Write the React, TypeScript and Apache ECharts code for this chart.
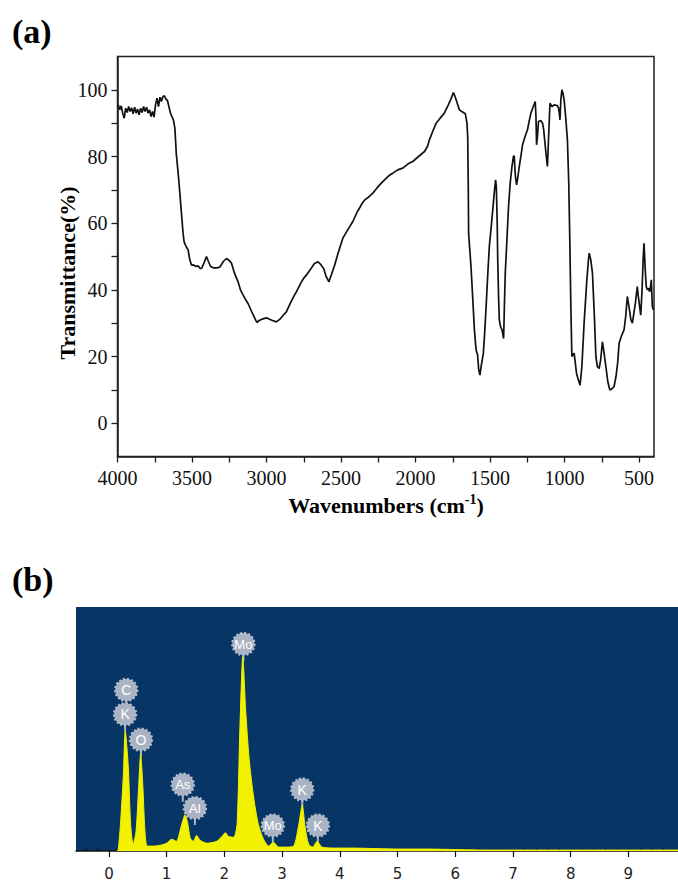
import React, { useEffect, useRef } from "react";
import * as echarts from "echarts";

// ---- (a) FTIR spectrum ----
const ftirWavenumber = [
  3995, 3985, 3975, 3965, 3955, 3945, 3935, 3925, 3915, 3905, 3895, 3885, 3875, 3865, 3855, 3845, 3835, 3825,
  3815, 3805, 3795, 3785, 3775, 3765, 3755, 3745, 3735, 3725, 3715, 3705, 3695, 3685, 3675, 3665, 3655, 3645,
  3635, 3625, 3615, 3605, 3595, 3588, 3578, 3570, 3560, 3553, 3540, 3526, 3515, 3503, 3490, 3475, 3460, 3445,
  3436, 3420, 3403, 3390, 3375, 3358, 3335, 3313, 3290, 3269, 3250, 3235, 3215, 3191, 3175, 3157, 3140, 3124,
  3100, 3079, 3065, 3050, 3030, 3001, 2980, 2960, 2934, 2910, 2890, 2867, 2840, 2820, 2800, 2770, 2750, 2733,
  2700, 2680, 2655, 2640, 2617, 2600, 2581, 2565, 2543, 2520, 2488, 2455, 2421, 2390, 2370, 2358, 2340, 2310,
  2287, 2260, 2230, 2208, 2180, 2153, 2120, 2086, 2050, 2019, 1980, 1940, 1920, 1907, 1885, 1862, 1835, 1807,
  1780, 1760, 1746, 1735, 1720, 1706, 1690, 1666, 1655, 1650, 1646, 1644, 1636, 1628, 1617, 1605, 1594, 1584,
  1576, 1568, 1560, 1545, 1535, 1523, 1515, 1505, 1490, 1478, 1472, 1463, 1458, 1452, 1449, 1443, 1438, 1430,
  1420, 1409, 1404, 1398, 1387, 1376, 1365, 1353, 1343, 1338, 1330, 1322, 1313, 1304, 1290, 1282, 1265, 1249,
  1238, 1226, 1210, 1197, 1192, 1188, 1182, 1175, 1160, 1148, 1140, 1137, 1125, 1115, 1108, 1098, 1085, 1070,
  1050, 1040, 1033, 1031, 1025, 1018, 1010, 1003, 993, 981, 972, 965, 958, 951, 944, 936, 928, 920,
  908, 896, 884, 869, 852, 840, 835, 824, 813, 800, 790, 780, 768, 758, 746, 735, 723, 710,
  697, 685, 668, 655, 644, 634, 620, 601, 590, 579, 572, 568, 555, 545, 535, 525, 512, 505,
  489, 480, 472, 467, 460, 452, 445, 437, 429, 423, 418, 411, 405,
];
const ftirTransmittance = [
  95.5, 94.0, 95.2, 93.0, 91.5, 94.5, 93.2, 95.0, 93.5, 94.6, 92.8, 94.8, 93.0, 94.2, 92.5, 94.5, 93.2, 95.0,
  93.5, 94.8, 93.0, 94.0, 92.0, 93.5, 91.8, 95.5, 97.5, 95.0, 97.8, 96.5, 98.0, 98.2, 97.2, 96.8, 95.0, 93.0,
  92.0, 91.0, 88.5, 80.5, 76.0, 72.5, 67.0, 62.5, 57.0, 54.4, 53.0, 52.0, 49.0, 47.4, 47.5, 47.0, 47.2, 46.4,
  46.4, 48.0, 50.0, 48.5, 47.0, 46.6, 46.6, 46.8, 48.5, 49.4, 48.8, 48.0, 45.0, 42.4, 40.0, 38.4, 37.0, 35.9,
  33.5, 31.5, 30.2, 30.8, 31.2, 31.6, 31.2, 30.8, 30.4, 31.2, 32.3, 33.4, 36.0, 37.8, 39.4, 42.0, 43.5, 44.4,
  46.5, 47.8, 48.4, 47.8, 46.4, 44.0, 42.4, 44.5, 47.4, 51.0, 55.5, 58.0, 60.5, 63.5, 65.0, 66.0, 67.0, 68.0,
  69.0, 70.5, 72.0, 73.0, 74.2, 75.0, 76.0, 76.5, 77.8, 78.5, 80.0, 81.5, 83.0, 85.0, 87.5, 90.0, 91.5, 93.0,
  95.5, 97.5, 99.2, 98.0, 96.0, 94.0, 93.5, 92.8, 90.0, 86.0, 70.0, 57.0, 52.0, 47.0, 38.0, 28.0, 22.0, 20.5,
  16.0, 14.4, 17.0, 21.0, 28.0, 38.0, 45.0, 53.0, 60.0, 66.0, 69.0, 73.0, 71.0, 60.0, 50.0, 38.0, 31.0, 29.0,
  28.0, 25.4, 35.0, 45.0, 55.0, 65.0, 72.0, 77.0, 80.0, 80.2, 74.0, 71.5, 74.0, 77.0, 81.0, 83.5, 86.0, 88.0,
  90.5, 93.0, 95.0, 96.5, 92.0, 83.5, 86.0, 90.5, 90.8, 90.0, 88.0, 86.5, 81.0, 77.0, 85.0, 96.0, 95.0, 95.5,
  95.3, 94.5, 92.0, 91.0, 97.0, 100.0, 98.8, 97.0, 92.0, 85.0, 72.0, 55.0, 35.0, 20.0, 20.5, 21.0, 18.0, 15.0,
  13.0, 11.4, 17.0, 30.0, 42.0, 49.0, 51.0, 49.0, 45.0, 32.0, 20.0, 17.0, 16.4, 19.0, 24.4, 21.0, 17.0, 12.5,
  10.0, 10.2, 11.0, 14.0, 18.0, 24.0, 26.0, 28.0, 32.0, 38.0, 36.0, 35.0, 31.0, 30.0, 33.0, 36.0, 41.0, 38.0,
  32.4, 40.0, 50.0, 54.0, 47.0, 41.0, 40.0, 40.5, 39.4, 41.0, 43.0, 35.0, 34.0,
];
const ftirTickValues = [500, 750, 1000, 1250, 1500, 1750, 2000, 2250, 2500, 2750, 3000, 3250, 3500, 3750, 4000];
const ftirLabelValues = [500, 1000, 1500, 2000, 2500, 3000, 3500, 4000];
const transTickValues = [0, 10, 20, 30, 40, 50, 60, 70, 80, 90, 100];
const transLabelValues = [0, 20, 40, 60, 80, 100];

// ---- (b) EDS spectrum ----
const edsEnergy = [
  0.14, 0.16, 0.2, 0.25, 0.283, 0.335, 0.377, 0.42, 0.47, 0.51, 0.55, 0.585, 0.625, 0.665, 0.77, 0.9, 1.0, 1.09,
  1.17, 1.26, 1.32, 1.36, 1.41, 1.46, 1.52, 1.58, 1.7, 1.87, 1.96, 2.02, 2.07, 2.16, 2.22, 2.27, 2.32, 2.37,
  2.43, 2.51, 2.59, 2.68, 2.77, 2.85, 2.94, 3.08, 3.2, 3.29, 3.35, 3.4, 3.46, 3.53, 3.61, 3.69, 3.92, 4.2,
  4.6, 5.0, 5.5, 6.0, 6.5, 7.5, 8.5, 9.5, 9.86,
];
const edsCounts = [
  0, 5, 270, 770, 1230, 870, 270, 70, 200, 600, 990, 700, 200, 50, 50, 60, 80, 120,
  100, 270, 370, 300, 130, 100, 160, 110, 80, 100, 150, 187, 150, 140, 270, 1270, 1990, 1440,
  940, 540, 270, 120, 50, 90, 40, 40, 50, 270, 470, 240, 70, 40, 100, 40, 30, 30,
  25, 20, 20, 15, 10, 10, 10, 10, 10,
];
const edsLabelNames = ["C", "K", "O", "As", "Al", "Mo", "Mo", "K", "K"];
const edsLabelEnergy = [0.3, 0.28, 0.555, 1.28, 1.49, 2.33, 2.84, 3.35, 3.62];
const edsLabelHeight = [1650, 1400, 1140, 680, 440, 2120, 260, 630, 260];
const edsMajorTicks = [0, 1, 2, 3, 4, 5, 6, 7, 8, 9];

const serif = "'Liberation Serif', 'Times New Roman', serif";
const sans = "'DejaVu Sans', Verdana, sans-serif";

function minorTicks(): number[] {
  const out: number[] = [];
  for (let i = -2; i <= 49; i++) {
    if (i % 5 !== 0) out.push(Math.round(i * 20) / 100);
  }
  return out;
}

const plain = (v: number) => String(v);

export default function App() {
  const ref = useRef<HTMLDivElement>(null);

  useEffect(() => {
    if (!ref.current) return;
    const chart = echarts.init(ref.current, undefined, { renderer: "svg" });

    const ftirData = ftirWavenumber.map((w, i) => [w, ftirTransmittance[i]]);
    const edsData = edsEnergy.map((e, i) => [e, edsCounts[i]]);
    const labelData = edsLabelNames.map((n, i) => [edsLabelEnergy[i], edsLabelHeight[i], n]);

    const option: any = {
      animation: false,
      backgroundColor: "#ffffff",
      grid: [
        {
          left: 117.5,
          top: 56.5,
          width: 536.5,
          height: 400,
          show: true,
          borderColor: "#222",
          borderWidth: 1.5,
          backgroundColor: "transparent",
        },
        {
          left: 76,
          top: 607,
          width: 602,
          height: 250,
          show: true,
          borderWidth: 0,
          backgroundColor: "#073566",
        },
      ],
      xAxis: [
        {
          gridIndex: 0,
          type: "value",
          min: 400,
          max: 4000,
          inverse: true,
          splitLine: { show: false },
          axisLine: { onZero: false, lineStyle: { color: "#222", width: 1.5 } },
          axisTick: { customValues: ftirTickValues, length: 6, inside: false, lineStyle: { color: "#222", width: 1.3 } },
          axisLabel: {
            customValues: ftirLabelValues,
            formatter: plain,
            fontFamily: serif,
            fontSize: 20,
            color: "#111",
            margin: 11,
          },
        },
        {
          gridIndex: 1,
          type: "value",
          min: -0.57,
          max: 9.86,
          splitLine: { show: false },
          axisLine: { onZero: false, lineStyle: { color: "#111", width: 1.5 } },
          axisTick: { customValues: edsMajorTicks, length: 6, lineStyle: { color: "#111", width: 1.2 } },
          axisLabel: { customValues: edsMajorTicks, formatter: plain, fontFamily: sans, fontSize: 15, color: "#222", margin: 15 },
        },
        {
          gridIndex: 1,
          type: "value",
          min: -0.57,
          max: 9.86,
          splitLine: { show: false },
          axisLine: { show: false },
          axisTick: { customValues: minorTicks(), length: 3, lineStyle: { color: "#111", width: 1 } },
          axisLabel: { show: false },
        },
      ],
      yAxis: [
        {
          gridIndex: 0,
          type: "value",
          min: -10,
          max: 110,
          splitLine: { show: false },
          axisLine: { onZero: false, lineStyle: { color: "#222", width: 1.5 } },
          axisTick: { customValues: transTickValues, length: 6, lineStyle: { color: "#222", width: 1.3 } },
          axisLabel: {
            customValues: transLabelValues,
            formatter: plain,
            fontFamily: serif,
            fontSize: 20,
            color: "#111",
            margin: 10,
          },
        },
        {
          gridIndex: 1,
          type: "value",
          min: 0,
          max: 2500,
          show: false,
        },
      ],
      series: [
        {
          type: "line",
          xAxisIndex: 0,
          yAxisIndex: 0,
          data: ftirData,
          showSymbol: false,
          lineStyle: { color: "#111", width: 1.7 },
          clip: true,
        },
        {
          type: "line",
          xAxisIndex: 1,
          yAxisIndex: 1,
          data: edsData,
          showSymbol: false,
          smooth: 0.25,
          lineStyle: { color: "#f2f200", width: 1 },
          areaStyle: { color: "#f2f200", opacity: 1 },
        },
        {
          type: "custom",
          xAxisIndex: 1,
          yAxisIndex: 1,
          data: labelData,
          clip: false,
          renderItem: (params: any, api: any) => {
            const p = api.coord([api.value(0), api.value(1)]);
            const name = labelData[params.dataIndex][2] as string;
            const r = 11;
            return {
              type: "group",
              children: [
                {
                  type: "line",
                  shape: { x1: p[0], y1: p[1] + r, x2: p[0], y2: p[1] + r + 6 },
                  style: { stroke: "#aab4c4", lineWidth: 2 },
                },
                {
                  type: "circle",
                  shape: { cx: p[0], cy: p[1], r },
                  style: { fill: "#a9b3c3", stroke: "#b4bdcb", lineWidth: 2.4, lineDash: [2, 2] },
                },
                {
                  type: "text",
                  x: p[0],
                  y: p[1],
                  style: {
                    text: name,
                    fill: "#ffffff",
                    fontFamily: "'Liberation Sans', Arial, sans-serif",
                    fontSize: name.length > 1 ? 13 : 14,
                    align: "center",
                    verticalAlign: "middle",
                  },
                },
              ],
            };
          },
        },
      ],
      graphic: [
        {
          type: "text",
          left: 12,
          top: 14,
          style: { text: "(a)", fontFamily: serif, fontWeight: "bold", fontSize: 34, fill: "#000" },
        },
        {
          type: "text",
          left: 12,
          top: 562,
          style: { text: "(b)", fontFamily: serif, fontWeight: "bold", fontSize: 34, fill: "#000" },
        },
        {
          type: "text",
          x: 67,
          y: 273,
          rotation: Math.PI / 2,
          style: {
            text: "Transmittance(%)",
            fontFamily: serif,
            fontWeight: "bold",
            fontSize: 22,
            fill: "#000",
            align: "center",
            verticalAlign: "middle",
          },
        },
        {
          type: "text",
          x: 386,
          y: 505,
          style: {
            text: "{a|Wavenumbers (cm}{s|-1}{a|)}",
            align: "center",
            verticalAlign: "middle",
            rich: {
              a: { fontFamily: serif, fontWeight: "bold", fontSize: 22, fill: "#000" },
              s: { fontFamily: serif, fontWeight: "bold", fontSize: 14, fill: "#000", verticalAlign: "top", padding: [0, 0, 11, 0] },
            },
          },
        },
      ],
    };

    chart.setOption(option);
    return () => chart.dispose();
  }, []);

  return (
    <div
      ref={ref}
      style={{ position: "absolute", left: 0, top: 0, width: 678, height: 881 }}
    />
  );
}
